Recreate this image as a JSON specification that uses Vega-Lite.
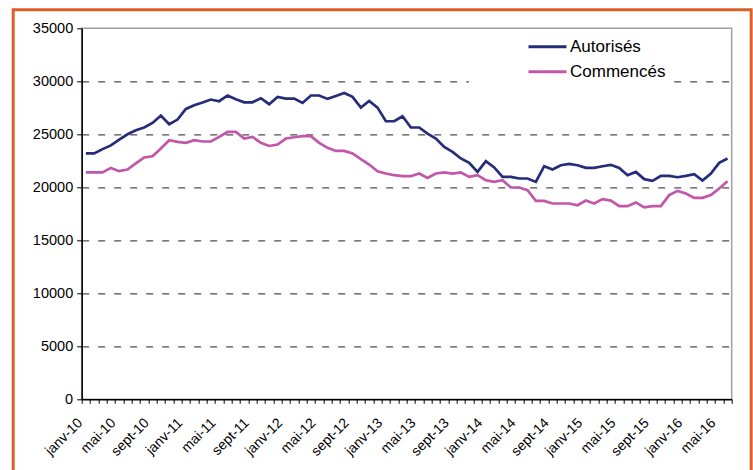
{
  "$schema": "https://vega.github.io/schema/vega-lite/v6.json",
  "width": 650,
  "height": 371,
  "autosize": {"type": "none"},
  "padding": {"left": 81.7, "top": 28.3, "right": 21.3, "bottom": 70.7},
  "background": "white",
  "config": {
    "font": "Liberation Sans",
    "view": {"stroke": "#a0a0a0", "strokeWidth": 1.5}
  },
  "data": {
    "values": [
      {"m": "janv-10", "Autorisés": 23200, "Commencés": 21400},
      {"m": "févr-10", "Autorisés": 23200, "Commencés": 21400},
      {"m": "mars-10", "Autorisés": 23600, "Commencés": 21400},
      {"m": "avr-10", "Autorisés": 23950, "Commencés": 21830},
      {"m": "mai-10", "Autorisés": 24500, "Commencés": 21520},
      {"m": "juin-10", "Autorisés": 25000, "Commencés": 21680},
      {"m": "juil-10", "Autorisés": 25380, "Commencés": 22250},
      {"m": "août-10", "Autorisés": 25640, "Commencés": 22810},
      {"m": "sept-10", "Autorisés": 26070, "Commencés": 22930},
      {"m": "oct-10", "Autorisés": 26770, "Commencés": 23660},
      {"m": "nov-10", "Autorisés": 25950, "Commencés": 24440},
      {"m": "déc-10", "Autorisés": 26390, "Commencés": 24280},
      {"m": "janv-11", "Autorisés": 27390, "Commencés": 24190},
      {"m": "févr-11", "Autorisés": 27740, "Commencés": 24440},
      {"m": "mars-11", "Autorisés": 28000, "Commencés": 24320},
      {"m": "avr-11", "Autorisés": 28280, "Commencés": 24320},
      {"m": "mai-11", "Autorisés": 28120, "Commencés": 24750},
      {"m": "juin-11", "Autorisés": 28660, "Commencés": 25220},
      {"m": "juil-11", "Autorisés": 28300, "Commencés": 25220},
      {"m": "août-11", "Autorisés": 28020, "Commencés": 24600},
      {"m": "sept-11", "Autorisés": 28020, "Commencés": 24750},
      {"m": "oct-11", "Autorisés": 28400, "Commencés": 24190},
      {"m": "nov-11", "Autorisés": 27840, "Commencés": 23900},
      {"m": "déc-11", "Autorisés": 28530, "Commencés": 24040},
      {"m": "janv-12", "Autorisés": 28370, "Commencés": 24600},
      {"m": "févr-12", "Autorisés": 28370, "Commencés": 24720},
      {"m": "mars-12", "Autorisés": 27960, "Commencés": 24820},
      {"m": "avr-12", "Autorisés": 28660, "Commencés": 24820},
      {"m": "mai-12", "Autorisés": 28660, "Commencés": 24190},
      {"m": "juin-12", "Autorisés": 28340, "Commencés": 23720},
      {"m": "juil-12", "Autorisés": 28620, "Commencés": 23430},
      {"m": "août-12", "Autorisés": 28900, "Commencés": 23430},
      {"m": "sept-12", "Autorisés": 28530, "Commencés": 23190},
      {"m": "oct-12", "Autorisés": 27520, "Commencés": 22650},
      {"m": "nov-12", "Autorisés": 28150, "Commencés": 22150},
      {"m": "déc-12", "Autorisés": 27520, "Commencés": 21520},
      {"m": "janv-13", "Autorisés": 26230, "Commencés": 21300},
      {"m": "févr-13", "Autorisés": 26230, "Commencés": 21140},
      {"m": "mars-13", "Autorisés": 26700, "Commencés": 21050},
      {"m": "avr-13", "Autorisés": 25640, "Commencés": 21050},
      {"m": "mai-13", "Autorisés": 25640, "Commencés": 21300},
      {"m": "juin-13", "Autorisés": 25070, "Commencés": 20890},
      {"m": "juil-13", "Autorisés": 24600, "Commencés": 21300},
      {"m": "août-13", "Autorisés": 23810, "Commencés": 21400},
      {"m": "sept-13", "Autorisés": 23340, "Commencés": 21300},
      {"m": "oct-13", "Autorisés": 22720, "Commencés": 21400},
      {"m": "nov-13", "Autorisés": 22300, "Commencés": 20980},
      {"m": "déc-13", "Autorisés": 21450, "Commencés": 21140},
      {"m": "janv-14", "Autorisés": 22460, "Commencés": 20670},
      {"m": "févr-14", "Autorisés": 21870, "Commencés": 20510},
      {"m": "mars-14", "Autorisés": 20980, "Commencés": 20670},
      {"m": "avr-14", "Autorisés": 20980, "Commencés": 19980},
      {"m": "mai-14", "Autorisés": 20830, "Commencés": 19980},
      {"m": "juin-14", "Autorisés": 20830, "Commencés": 19730},
      {"m": "juil-14", "Autorisés": 20510, "Commencés": 18720},
      {"m": "août-14", "Autorisés": 21990, "Commencés": 18720},
      {"m": "sept-14", "Autorisés": 21680, "Commencés": 18470},
      {"m": "oct-14", "Autorisés": 22080, "Commencés": 18470},
      {"m": "nov-14", "Autorisés": 22210, "Commencés": 18470},
      {"m": "déc-14", "Autorisés": 22080, "Commencés": 18310},
      {"m": "janv-15", "Autorisés": 21830, "Commencés": 18750},
      {"m": "févr-15", "Autorisés": 21830, "Commencés": 18470},
      {"m": "mars-15", "Autorisés": 21990, "Commencés": 18880},
      {"m": "avr-15", "Autorisés": 22120, "Commencés": 18750},
      {"m": "mai-15", "Autorisés": 21830, "Commencés": 18220},
      {"m": "juin-15", "Autorisés": 21140, "Commencés": 18220},
      {"m": "juil-15", "Autorisés": 21450, "Commencés": 18570},
      {"m": "août-15", "Autorisés": 20770, "Commencés": 18100},
      {"m": "sept-15", "Autorisés": 20610, "Commencés": 18220},
      {"m": "oct-15", "Autorisés": 21080, "Commencés": 18220},
      {"m": "nov-15", "Autorisés": 21080, "Commencés": 19260},
      {"m": "déc-15", "Autorisés": 20950, "Commencés": 19660},
      {"m": "janv-16", "Autorisés": 21080, "Commencés": 19420},
      {"m": "févr-16", "Autorisés": 21240, "Commencés": 19000},
      {"m": "mars-16", "Autorisés": 20640, "Commencés": 19000},
      {"m": "avr-16", "Autorisés": 21300, "Commencés": 19260},
      {"m": "mai-16", "Autorisés": 22300, "Commencés": 19890},
      {"m": "juin-16", "Autorisés": 22720, "Commencés": 20580}
    ]
  },
  "transform": [{"fold": ["Autorisés", "Commencés"], "as": ["serie", "valeur"]}],
  "layer": [
    {
      "mark": {"type": "line", "strokeWidth": 2.7},
      "encoding": {
        "x": {
          "field": "m",
          "type": "ordinal",
          "sort": null,
          "scale": {"type": "band", "paddingInner": 0, "paddingOuter": 0},
          "axis": {
            "orient": "bottom",
            "title": null,
            "grid": false,
            "tickBand": "extent",
            "domainColor": "black",
            "domainWidth": 1.5,
            "tickColor": "black",
            "tickSize": 4,
            "tickWidth": 1,
            "labelAngle": -45,
            "labelAlign": "right",
            "labelBaseline": "middle",
            "labelOffset": -6,
            "labelPadding": 17,
            "labelFontSize": 14,
            "labelColor": "black",
            "labelOverlap": false,
            "labelExpr": "indexof(['janv','mai','sept'], split(datum.label, '-')[0]) >= 0 ? datum.label : ''"
          }
        },
        "y": {
          "field": "valeur",
          "type": "quantitative",
          "scale": {"domain": [0, 35000], "nice": false},
          "axis": {
            "orient": "left",
            "title": null,
            "format": "d",
            "values": [0, 5000, 10000, 15000, 20000, 25000, 30000, 35000],
            "grid": true,
            "gridDash": [7, 9],
            "gridColor": "#4d4d4d",
            "gridWidth": 1.3,
            "gridOpacity": {"condition": {"test": "datum.value == 0 || datum.value == 35000", "value": 0}, "value": 1},
            "domainColor": "black",
            "domainWidth": 1.5,
            "tickColor": "black",
            "tickSize": 5,
            "labelFontSize": 14.5,
            "labelColor": "black",
            "labelPadding": 4
          }
        },
        "color": {
          "field": "serie",
          "type": "nominal",
          "scale": {"domain": ["Autorisés", "Commencés"], "range": ["#262b7a", "#c256aa"]},
          "legend": {
            "orient": "none",
            "legendX": 387.3,
            "legendY": 2.4,
            "direction": "vertical",
            "title": "\u00a0",
            "titleOrient": "left",
            "titlePadding": 62.5,
            "titleColor": "white",
            "fillColor": "white",
            "padding": 5,
            "symbolType": "M-2,0H2",
            "symbolSize": 361,
            "symbolStrokeWidth": 3,
            "labelFontSize": 17,
            "labelColor": "black",
            "labelOffset": 11.5,
            "labelLimit": 400,
            "rowPadding": 6,
            "labelExpr": "datum.label + '\u00a0\u00a0\u00a0\u00a0\u00a0\u00a0\u00a0\u00a0\u00a0\u00a0\u00a0\u00a0'"
          }
        }
      }
    },
    {
      "mark": {"type": "point", "opacity": 0},
      "encoding": {
        "x": {
          "field": "valeur",
          "type": "quantitative",
          "scale": {"range": [-69, 668.3], "zero": false, "nice": false},
          "axis": {"orient": "top", "offset": 19, "title": null, "labels": false, "ticks": false, "grid": false, "domainColor": "#dc5f2a", "domainWidth": 3}
        },
        "y": {
          "field": "valeur",
          "type": "quantitative",
          "scale": {"range": [560, -20.5], "zero": false, "nice": false},
          "axis": {"orient": "left", "offset": 69, "title": null, "labels": false, "ticks": false, "grid": false, "domainColor": "#dc5f2a", "domainWidth": 3}
        }
      }
    },
    {
      "mark": {"type": "point", "opacity": 0},
      "encoding": {
        "y": {
          "field": "valeur",
          "type": "quantitative",
          "scale": {"range": [560, -20.5], "zero": false, "nice": false},
          "axis": {"orient": "right", "offset": 19, "title": null, "labels": false, "ticks": false, "grid": false, "domainColor": "#dc5f2a", "domainWidth": 3}
        }
      }
    }
  ],
  "resolve": {
    "scale": {"x": "independent", "y": "independent", "color": "independent"},
    "axis": {"x": "independent", "y": "independent"}
  }
}
